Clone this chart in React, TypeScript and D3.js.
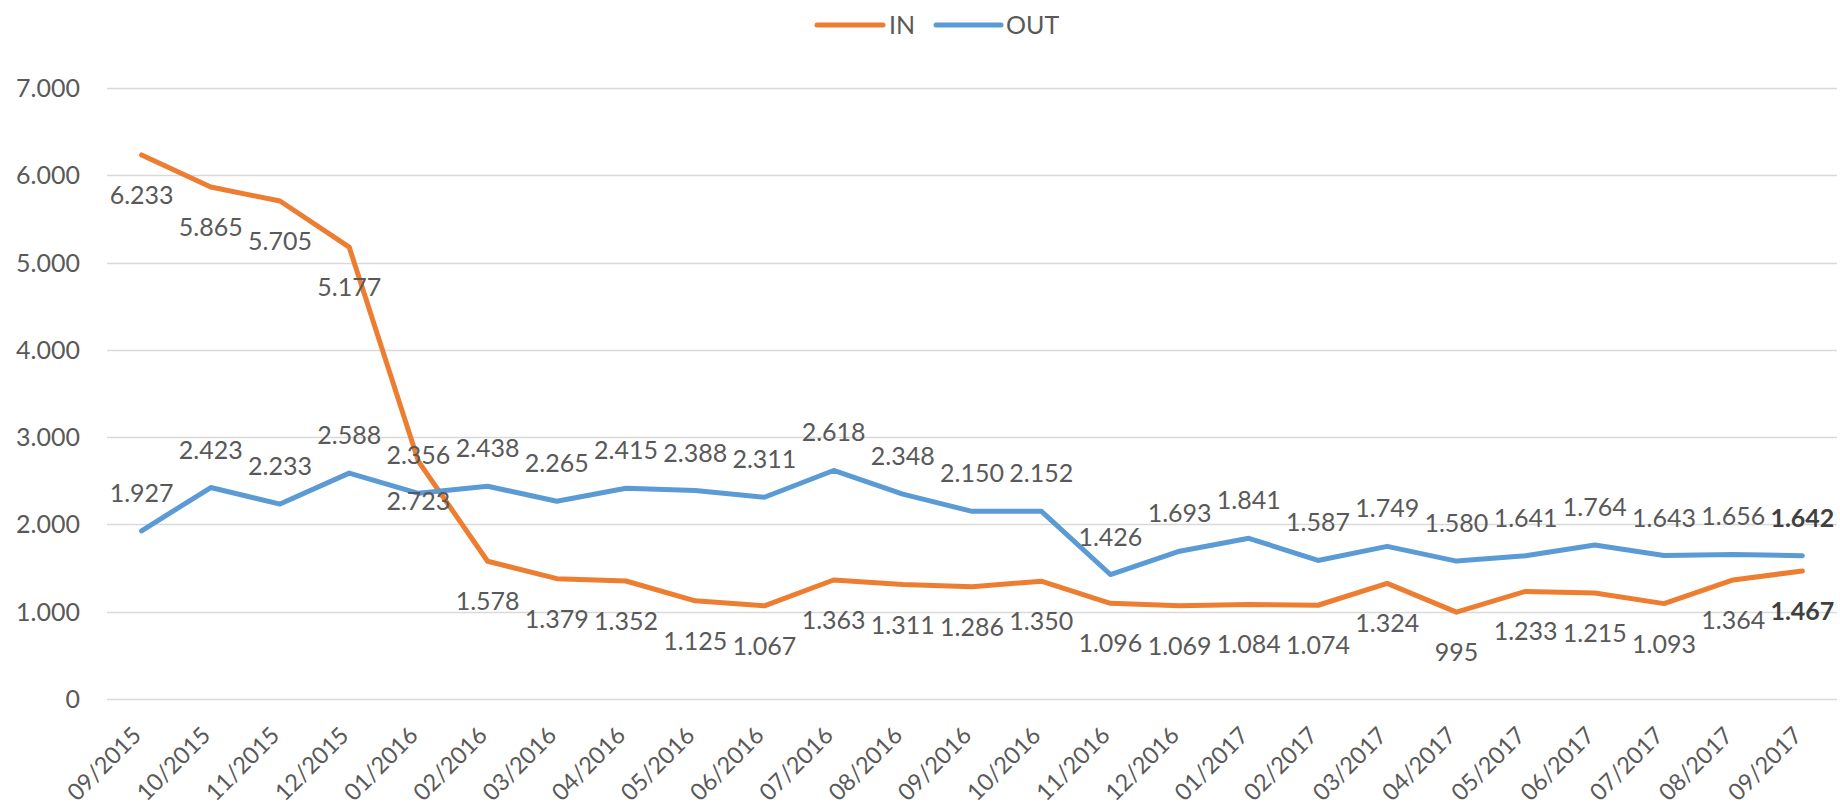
import React from "react";
import * as d3 from "d3";

const months = [
  "09/2015", "10/2015", "11/2015", "12/2015", "01/2016", "02/2016", "03/2016",
  "04/2016", "05/2016", "06/2016", "07/2016", "08/2016", "09/2016", "10/2016",
  "11/2016", "12/2016", "01/2017", "02/2017", "03/2017", "04/2017", "05/2017",
  "06/2017", "07/2017", "08/2017", "09/2017",
];
const inValues = [
  6233, 5865, 5705, 5177, 2723, 1578, 1379, 1352, 1125, 1067, 1363, 1311, 1286,
  1350, 1096, 1069, 1084, 1074, 1324, 995, 1233, 1215, 1093, 1364, 1467,
];
const outValues = [
  1927, 2423, 2233, 2588, 2356, 2438, 2265, 2415, 2388, 2311, 2618, 2348, 2150,
  2152, 1426, 1693, 1841, 1587, 1749, 1580, 1641, 1764, 1643, 1656, 1642,
];
const yTicks = [0, 1000, 2000, 3000, 4000, 5000, 6000, 7000];

const W = 1840;
const H = 807;
const FONT = "Lato, 'Open Sans', sans-serif";
const TEXT = "#595959";
const ORANGE = "#ED7D31";
const BLUE = "#5B9BD5";

const locale = d3.formatLocale({
  decimal: ",",
  thousands: ".",
  grouping: [3],
  currency: ["", "€"],
});
const fmt = locale.format(",d");

export default function App() {
  const plotLeft = 107;
  const plotRight = 1837;
  const plotTop = 88;
  const plotBottom = 699;

  const x = d3
    .scalePoint<string>()
    .domain(months)
    .range([plotLeft, plotRight])
    .padding(0.5);
  const y = d3.scaleLinear().domain([0, 7000]).range([plotBottom, plotTop]);

  const line = d3
    .line<number>()
    .x((_, i) => x(months[i]) as number)
    .y((d) => y(d));

  const series = [
    { name: "IN", values: inValues, color: ORANGE, pos: "below" },
    { name: "OUT", values: outValues, color: BLUE, pos: "above" },
  ];

  return (
    <svg
      width={W}
      height={H}
      style={{ position: "absolute", left: 0, top: 0, background: "#fff" }}
      fontFamily={FONT}
    >
      <rect x={0} y={0} width={W} height={H} fill="#fff" />
      {/* gridlines */}
      {yTicks.map((t) => (
        <line
          key={t}
          x1={plotLeft}
          x2={plotRight}
          y1={Math.round(y(t)) + 0.5}
          y2={Math.round(y(t)) + 0.5}
          stroke="#D9D9D9"
          strokeWidth={1.3}
        />
      ))}
      {/* y labels */}
      {yTicks.map((t) => (
        <text
          key={"yl" + t}
          x={80}
          y={y(t)}
          dy="0.36em"
          textAnchor="end"
          fontSize={25}
          fill={TEXT}
        >
          {fmt(t)}
        </text>
      ))}
      {/* x labels */}
      {months.map((m) => {
        const px = (x(m) as number) - 5;
        const py = plotBottom + 32;
        return (
          <text
            key={"xl" + m}
            x={px}
            y={py}
            dy="0.36em"
            textAnchor="end"
            fontSize={23.5}
            fill={TEXT}
            transform={`rotate(-45, ${px}, ${py})`}
          >
            {m}
          </text>
        );
      })}
      {/* lines */}
      {series.map((s) => (
        <path
          key={s.name}
          d={line(s.values) as string}
          fill="none"
          stroke={s.color}
          strokeWidth={5}
          strokeLinejoin="round"
          strokeLinecap="round"
        />
      ))}
      {/* data labels */}
      {series.map((s) =>
        s.values.map((v, i) => {
          const px = x(months[i]) as number;
          const py = y(v);
          const last = i === s.values.length - 1;
          return (
            <text
              key={s.name + i}
              x={px}
              y={s.pos === "above" ? py - 29 : py + 49}
              textAnchor="middle"
              fontSize={25}
              fontWeight={last ? "bold" : "normal"}
              fill={last ? "#404040" : TEXT}
            >
              {fmt(v)}
            </text>
          );
        })
      )}
      {/* legend */}
      <line x1={817} x2={883} y1={25} y2={25} stroke={ORANGE} strokeWidth={5} strokeLinecap="round" />
      <text x={889} y={25} dy="0.36em" fontSize={25} fill={TEXT}>
        IN
      </text>
      <line x1={936} x2={1001} y1={25} y2={25} stroke={BLUE} strokeWidth={5} strokeLinecap="round" />
      <text x={1006} y={25} dy="0.36em" fontSize={25} fill={TEXT}>
        OUT
      </text>
    </svg>
  );
}
